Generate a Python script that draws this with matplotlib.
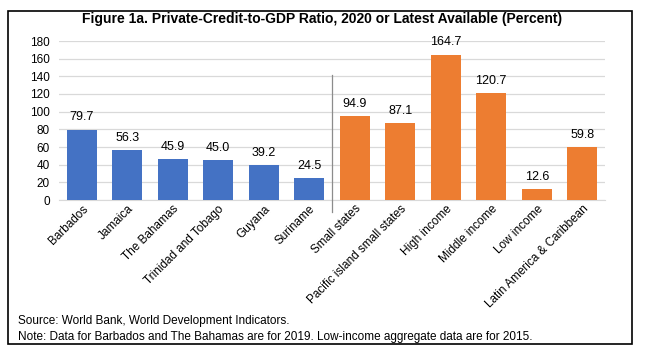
import numpy as np
import matplotlib.pyplot as plt
from matplotlib.patches import Rectangle

plt.rcParams['font.family'] = ['Liberation Sans', 'DejaVu Sans']

countries = ["Barbados", "Jamaica", "The Bahamas", "Trinidad and Tobago", "Guyana", "Suriname"]
country_vals = [79.7, 56.3, 45.9, 45.0, 39.2, 24.5]
groups = ["Small states", "Pacific island small states", "High income", "Middle income",
          "Low income", "Latin America & Caribbean"]
group_vals = [94.9, 87.1, 164.7, 120.7, 12.6, 59.8]
yticks = [0, 20, 40, 60, 80, 100, 120, 140, 160, 180]

title = "Figure 1a. Private-Credit-to-GDP Ratio, 2020 or Latest Available (Percent)"
source = "Source: World Bank, World Development Indicators."
note = "Note: Data for Barbados and The Bahamas are for 2019. Low-income aggregate data are for 2015."

W, H = 645, 352
fig = plt.figure(figsize=(W / 100, H / 100), dpi=100)
ax = fig.add_axes([59 / W, 1 - 200 / H, 546 / W, 159 / H])

labels = countries + groups
vals = country_vals + group_vals
x = np.arange(len(labels))
colors = ["#4472C4"] * len(countries) + ["#ED7D31"] * len(groups)
ax.bar(x, vals, width=0.66, color=colors, zorder=3)
for xi, v in zip(x, vals):
    ax.text(xi, v + 7, f"{v:.1f}", ha="center", va="bottom", fontsize=9)

ax.set_xlim(-0.5, len(labels) - 0.5)
ax.set_ylim(0, 180)
ax.set_yticks(yticks)
ax.yaxis.grid(True, color="#D9D9D9", linewidth=0.9, zorder=0)
ax.tick_params(axis="y", length=0, labelsize=8.5, pad=6.5)
ax.tick_params(axis="x", length=0, labelsize=8.5, pad=2)
ax.set_xticks(x)
ax.set_xticklabels(labels, rotation=45, ha="right", rotation_mode="anchor")
for s in ["top", "right", "left"]:
    ax.spines[s].set_visible(False)
ax.spines["bottom"].set_color("#D9D9D9")

# divider between countries and aggregates
ax.plot([5.5, 5.5], [-14, 142], color="#8C8C8C", linewidth=0.9, clip_on=False, zorder=4)

fig.text(322 / W, 1 - 19 / H, title, ha="center", va="center", fontsize=10,
         fontweight="bold", family=["Liberation Sans Narrow", "Liberation Sans"])
fig.text(18 / W, 1 - 321 / H, source, ha="left", va="center", fontsize=8.5)
fig.text(18 / W, 1 - 337 / H, note, ha="left", va="center", fontsize=8.5)

fig.patches.append(Rectangle((8 / W, 1 - 344 / H), 624 / W, 333 / H, transform=fig.transFigure,
                             fill=False, edgecolor="black", linewidth=1.2))

fig.savefig("out.png", dpi=100)
